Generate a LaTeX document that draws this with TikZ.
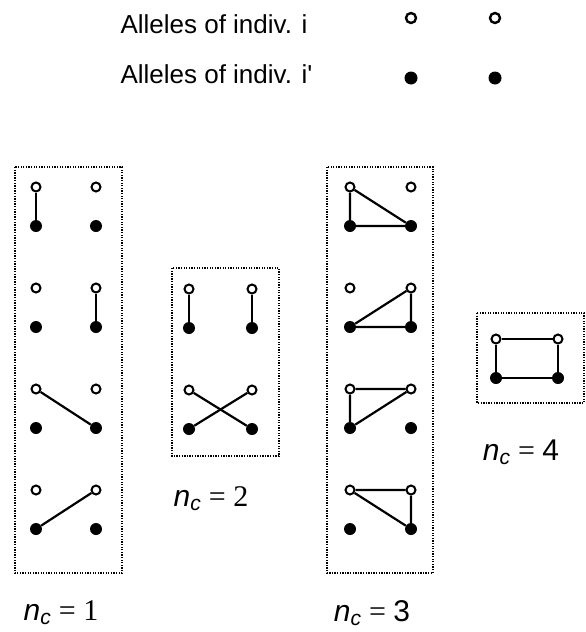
\documentclass[tikz,border=0pt]{standalone}
\usepackage{fontspec}
\setmainfont{Liberation Sans}
\newfontfamily\timesfont{Liberation Serif}
\tikzset{every node/.style={font=\fontsize{26}{31}\selectfont}}
\newcommand{\nclabel}[1]{{\itshape n}\textsubscript{\itshape c}{\timesfont\ =\ }#1}

\begin{document}
\begin{tikzpicture}[x=1pt, y=-1pt,
  allele/.style={circle, draw, line width=2pt, fill=white, inner sep=0pt, minimum size=9pt},
  partner/.style={circle, fill, inner sep=0pt, minimum size=12pt},
  keyallele/.style={allele, line width=2.4pt, minimum size=10pt},
  keypartner/.style={partner, minimum size=13pt},
  link/.style={line width=2.2pt},
  groupbox/.style={line width=1.3pt, dash pattern=on 1.3pt off 1.3pt},
  grouplabel/.style={font=\fontsize{30}{36}\selectfont, inner sep=1pt}]

  \useasboundingbox (0,0) rectangle (586,632);

  % Key.
  \node[anchor=base west] (keyi) at (117,33) {Alleles of indiv. i};
  \node[anchor=base west] (keyj) at (117,83) {Alleles of indiv. i\textquotesingle};
  \node[keyallele] (ki1) at (411,18) {};
  \node[keyallele] (ki2) at (495,18) {};
  \node[keypartner] (kj1) at (411,78) {};
  \node[keypartner] (kj2) at (495,78) {};

  % Dotted group boxes.
  \draw[groupbox] (15,167) rectangle (122,573);
  \draw[groupbox] (172,268) rectangle (279,456);
  \draw[groupbox] (327,167) rectangle (433,573);
  \draw[groupbox] (477,313) rectangle (584,403);

  % Alleles -- groups n_c = 1 and n_c = 3.
  \foreach \b/\xl/\xr in {a/36/96, c/350/411} {
    \foreach \r/\yo in {1/187, 2/288, 3/389, 4/490} {
      \node[allele] (\b-\r-oL) at (\xl,\yo) {};
      \node[allele] (\b-\r-oR) at (\xr,\yo) {};
      \node[partner] (\b-\r-fL) at (\xl,\yo+39) {};
      \node[partner] (\b-\r-fR) at (\xr,\yo+39) {};
    }
  }

  % Alleles -- group n_c = 2.
  \foreach \r/\yo in {1/289, 2/390} {
    \node[allele] (b-\r-oL) at (189,\yo) {};
    \node[allele] (b-\r-oR) at (252,\yo) {};
    \node[partner] (b-\r-fL) at (189,\yo+39) {};
    \node[partner] (b-\r-fR) at (252,\yo+39) {};
  }

  % Alleles -- group n_c = 4.
  \node[allele] (d-1-oL) at (496,339) {};
  \node[allele] (d-1-oR) at (558,339) {};
  \node[partner] (d-1-fL) at (496,378) {};
  \node[partner] (d-1-fR) at (558,378) {};

  % Links, n_c = 1.
  \draw[link] (a-1-oL) -- (a-1-fL);
  \draw[link] (a-2-oR) -- (a-2-fR);
  \draw[link] (a-3-oL) -- (a-3-fR);
  \draw[link] (a-4-fL) -- (a-4-oR);

  % Links, n_c = 2.
  \draw[link] (b-1-oL) -- (b-1-fL);
  \draw[link] (b-1-oR) -- (b-1-fR);
  \draw[link] (b-2-oL) -- (b-2-fR);
  \draw[link] (b-2-oR) -- (b-2-fL);

  % Links, n_c = 3.
  \draw[link] (c-1-oL) -- (c-1-fL) -- (c-1-fR) -- (c-1-oL);
  \draw[link] (c-2-oR) -- (c-2-fR) -- (c-2-fL) -- (c-2-oR);
  \draw[link] (c-3-oL) -- (c-3-oR) -- (c-3-fL) -- (c-3-oL);
  \draw[link] (c-4-oL) -- (c-4-oR) -- (c-4-fR) -- (c-4-oL);

  % Links, n_c = 4.
  \draw[link] (d-1-oL) -- (d-1-oR) -- (d-1-fR) -- (d-1-fL) -- (d-1-oL);

  % Group labels.
  \node[grouplabel] (lab1) at (61,613) {\nclabel{\timesfont 1}};
  \node[grouplabel] (lab2) at (211,499) {\nclabel{\timesfont 2}};
  \node[grouplabel] (lab3) at (372,613) {\nclabel{3}};
  \node[grouplabel] (lab4) at (521,452) {\nclabel{4}};

\end{tikzpicture}
\end{document}
